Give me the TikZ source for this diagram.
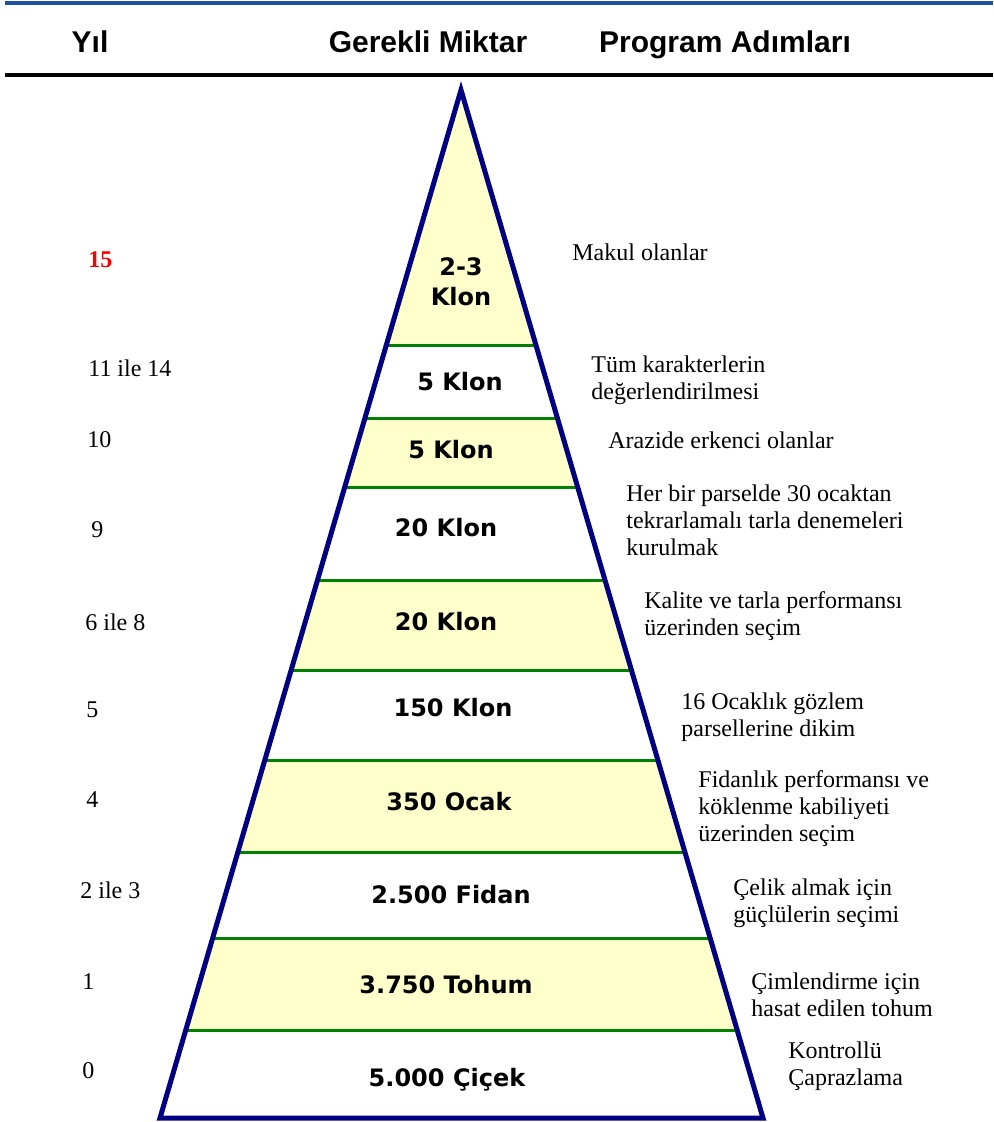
\documentclass[tikz,border=0pt]{standalone}
\usepackage{fontspec}
\setmainfont{Liberation Serif}
\newfontfamily\hdrfont{Liberation Sans}
\newfontfamily\klonfont{DejaVu Sans}
\definecolor{navyc}{RGB}{0,0,128}
\definecolor{greenc}{RGB}{0,128,0}
\definecolor{bandy}{RGB}{255,255,204}
\definecolor{topblue}{RGB}{32,80,160}
\tikzset{
  hdr/.style={font=\hdrfont\bfseries\fontsize{15}{18}\selectfont, inner sep=0pt, anchor=base},
  yil/.style={anchor=west, inner sep=0pt, font=\fontsize{12}{13.5}\selectfont},
  stepnote/.style={anchor=west, inner sep=0pt, align=left, font=\fontsize{12}{13.5}\selectfont},
  amount/.style={inner sep=0pt, align=center, font=\klonfont\bfseries\fontsize{12}{15}\selectfont},
  band/.style={fill=bandy},
  sep/.style={draw=greenc, line width=1.5pt},
  pyr/.style={draw=navyc, line width=2.5pt, line join=miter},
}
\begin{document}
\begin{tikzpicture}[x=0.5pt,y=-0.5pt]
\useasboundingbox (0,0) rectangle (993,1122);
% header rules
\draw[topblue, line width=2pt] (5,3.5) -- (993,3.5);
\draw[black, line width=2pt] (5,75.5) -- (993,75.5);
% header texts
\node[hdr] (hYil) at (90,53) {Yıl};
\node[hdr] (hMik) at (428,53) {Gerekli Miktar};
\node[hdr] (hProg) at (725,53) {Program Adımları};
% pyramid
\coordinate (A) at (461,90);
\coordinate (BL) at (160,1118);
\coordinate (BR) at (763,1118);
\begin{scope}
  \clip (A) -- (BL) -- (BR) -- cycle;
  \fill[band] (0,80) rectangle (993,346);
  \fill[band] (0,418) rectangle (993,487);
  \fill[band] (0,580) rectangle (993,670);
  \fill[band] (0,760) rectangle (993,852);
  \fill[band] (0,938) rectangle (993,1030);
  \foreach \yy in {346,418,487,580,670,760,852,938,1030}
    \draw[sep] (100,\yy) -- (900,\yy);
\end{scope}
\draw[pyr] (A) -- (BL) -- (BR) -- cycle;
% amounts
\node[amount] (m1) at (461,282) {2-3\\Klon};
\node[amount] (m2) at (460,382) {5 Klon};
\node[amount] (m3) at (451,450) {5 Klon};
\node[amount] (m4) at (446,528) {20 Klon};
\node[amount] (m5) at (446,622) {20 Klon};
\node[amount] (m6) at (453,708) {150 Klon};
\node[amount] (m7) at (449,802) {350 Ocak};
\node[amount] (m8) at (451,895) {2.500 Fidan};
\node[amount] (m9) at (446,985) {3.750 Tohum};
\node[amount] (m10) at (447,1080) {5.000 Çiçek};
% years
\node[yil, text=red, font=\bfseries\fontsize{12}{13.5}\selectfont] (y1) at (88,260) {15};
\node[yil] (y2) at (88,368) {11 ile 14};
\node[yil] (y3) at (87,440) {10};
\node[yil] (y4) at (91,530) {9};
\node[yil] (y5) at (85,622) {6 ile 8};
\node[yil] (y6) at (86,710) {5};
\node[yil] (y7) at (86,800) {4};
\node[yil] (y8) at (80,890) {2 ile 3};
\node[yil] (y9) at (82,982) {1};
\node[yil] (y10) at (82,1071) {0};
% program steps
\node[stepnote] (p1) at (572,252) {Makul olanlar};
\node[stepnote] (p2) at (591,380.5) {Tüm karakterlerin\\değerlendirilmesi};
\node[stepnote] (p3) at (608,440) {Arazide erkenci olanlar};
\node[stepnote] (p4) at (626,520.5) {Her bir parselde 30 ocaktan\\tekrarlamalı tarla denemeleri\\kurulmak};
\node[stepnote] (p5) at (644,616.5) {Kalite ve tarla performansı\\üzerinden seçim};
\node[stepnote] (p6) at (681,717) {16 Ocaklık gözlem\\parsellerine dikim};
\node[stepnote] (p7) at (698,809) {Fidanlık performansı ve\\köklenme kabiliyeti\\üzerinden seçim};
\node[stepnote] (p8) at (733,903.5) {Çelik almak için\\güçlülerin seçimi};
\node[stepnote] (p9) at (751,995) {Çimlendirme için\\hasat edilen tohum};
\node[stepnote] (p10) at (788,1066) {Kontrollü\\Çaprazlama};
\end{tikzpicture}
\end{document}
